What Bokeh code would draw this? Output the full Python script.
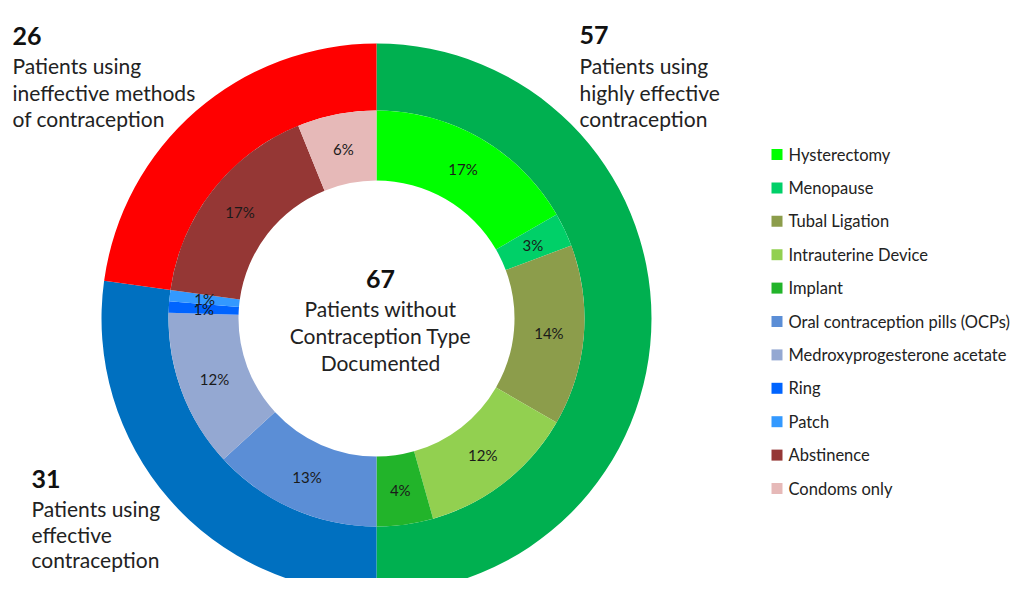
import math
from bokeh.plotting import figure
from bokeh.models import Range1d
from bokeh.core.properties import value
from bokeh.embed import file_html
from bokeh.resources import INLINE

# ---- data ----
groups = ["Patients using highly effective contraception",
          "Patients using effective contraception",
          "Patients using ineffective methods of contraception"]
group_counts = [57, 31, 26]
group_colors = ["#00B050", "#0070C0", "#FF0000"]

methods = ["Hysterectomy", "Menopause", "Tubal Ligation", "Intrauterine Device", "Implant",
           "Oral contraception pills (OCPs)", "Medroxyprogesterone acetate", "Ring", "Patch",
           "Abstinence", "Condoms only"]
method_counts = [19, 3, 16, 14, 5, 15, 14, 1, 1, 19, 7]
method_colors = ["#00FF00", "#00D068", "#8C9D4B", "#92D050", "#22B42A",
                 "#5B8ED6", "#94A8D2", "#0064FF", "#3399FF", "#953735", "#E6B9B8"]
undocumented = 67

# ---- layout (data units == pixels of the picture, y measured from the top) ----
H = 594
CX, CY = 376, H - 318
R_OUT, R_MID, R_HOLE = 275, 208, 138
FONT = value("Lato")

p = figure(width=1017, height=578, x_range=Range1d(0, 1017), y_range=Range1d(H - 578, H),
           output_backend="svg", toolbar_location=None, min_border=0,
           x_axis_location=None, y_axis_location=None)
p.grid.visible = False
p.outline_line_color = None
p.background_fill_color = "white"
p.border_fill_color = "white"


def angles(counts):
    total = sum(counts)
    starts, ends, mids = [], [], []
    cum = 0
    for c in counts:
        a0 = math.pi / 2 - 2 * math.pi * cum / total
        cum += c
        a1 = math.pi / 2 - 2 * math.pi * cum / total
        starts.append(a0); ends.append(a1); mids.append((a0 + a1) / 2)
    return starts, ends, mids


gs, ge, gm = angles(group_counts)
p.annular_wedge(x=CX, y=CY, inner_radius=R_MID, outer_radius=R_OUT,
                start_angle=gs, end_angle=ge, direction="clock",
                fill_color=group_colors, line_color=None)

ms, me, mm = angles(method_counts)
p.annular_wedge(x=CX, y=CY, inner_radius=R_HOLE, outer_radius=R_MID,
                start_angle=ms, end_angle=me, direction="clock",
                fill_color=method_colors, line_color=None)

total = sum(method_counts)
r_lab = (R_HOLE + R_MID) / 2
lx = [CX + r_lab * math.cos(a) for a in mm]
ly = [CY + r_lab * math.sin(a) for a in mm]
lt = [f"{round(100 * c / total)}%" for c in method_counts]
p.text(x=lx, y=ly, text=lt, text_font=FONT, text_font_size="15px",
       text_align="center", text_baseline="middle", text_color="#1a1a1a")

# ---- group annotations ----
def block(x, y_num, y_lines, number, lines, align="left"):
    p.text(x=[x], y=[H - y_num], text=[str(number)], text_font=FONT,
           text_font_size="25px", text_font_style="bold", text_align=align,
           text_baseline="alphabetic", text_color="#111111")
    p.text(x=[x] * len(lines), y=[H - v for v in y_lines], text=lines, text_font=FONT,
           text_font_size="21px", text_align=align, text_baseline="alphabetic",
           text_color="#222222")

block(12, 35, [65, 92, 118], group_counts[2],
      ["Patients using", "ineffective methods", "of contraception"])
block(579, 34, [65, 92, 118], group_counts[0],
      ["Patients using", "highly effective", "contraception"])
block(31, 478, [508, 534, 559], group_counts[1],
      ["Patients using", "effective", "contraception"])

p.text(x=[380], y=[H - 278], text=[str(undocumented)], text_font=FONT,
       text_font_size="25px", text_font_style="bold", text_align="center",
       text_baseline="alphabetic", text_color="#111111")
p.text(x=[380] * 3, y=[H - 308, H - 335, H - 362],
       text=["Patients without", "Contraception Type", "Documented"],
       text_font=FONT, text_font_size="21px", text_align="center",
       text_baseline="alphabetic", text_color="#222222")

# ---- legend ----
leg_y = [H - (154 + 33.4 * i) for i in range(len(methods))]
p.rect(x=[776.5] * len(methods), y=leg_y, width=11, height=11,
       fill_color=method_colors, line_color=None)
p.text(x=[788] * len(methods), y=leg_y, text=methods, text_font=FONT,
       text_font_size="16.5px", text_align="left", text_baseline="middle",
       text_color="#222222")

open("out.html", "w").write(file_html(p, INLINE))
